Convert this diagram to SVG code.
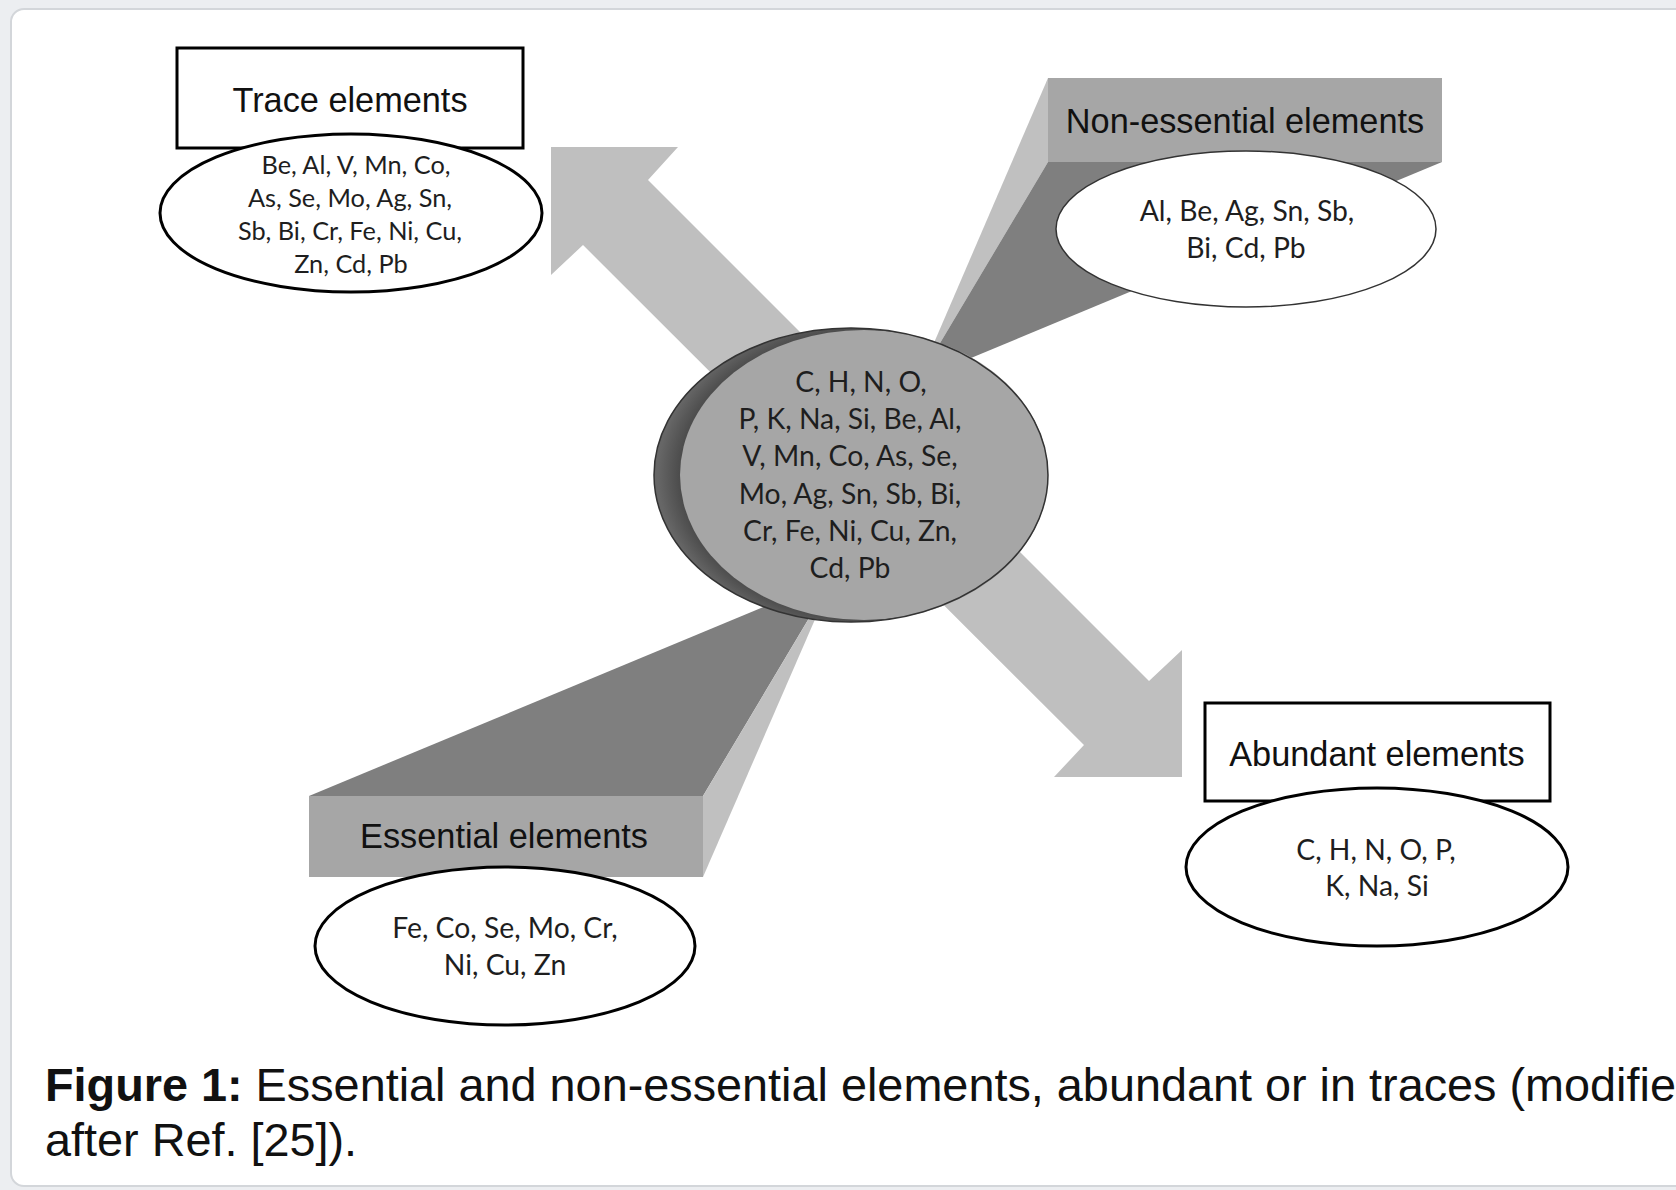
<svg xmlns="http://www.w3.org/2000/svg" width="1676" height="1190" viewBox="0 0 1676 1190">
  <defs>
    <style>
      .lbl { font-family: "Liberation Sans", Arial, sans-serif; font-size: 34.3px; fill: #111111; text-anchor: middle; }
      .el { font-family: Lato, "Open Sans", sans-serif; font-size: 28.3px; fill: #1e1e1e; text-anchor: middle; }
      .el-s { font-size: 25.3px; }
      .bx { fill: #ffffff; stroke: #000000; stroke-width: 3; }
      .ov { fill: #ffffff; stroke: #000000; stroke-width: 3; }
      .ov-thin { fill: #ffffff; stroke: #333333; stroke-width: 1.5; }
      .front { fill: #a6a6a6; }
      .side { fill: #c0c0c0; }
      .dark { fill: #7f7f7f; }
      .cap { font-family: "Liberation Sans", Arial, sans-serif; font-size: 46.8px; fill: #111111; }
    </style>
    <radialGradient id="disc" cx="0.56" cy="0.5" r="0.55">
      <stop offset="0.85" stop-color="#3f3f3f"/>
      <stop offset="1" stop-color="#666666"/>
    </radialGradient>
  </defs>

  <!-- page background and card -->
  <rect x="0" y="0" width="1676" height="1190" fill="#eceef1"/>
  <rect x="11" y="9" width="1720" height="1177" rx="13" ry="13" fill="#ffffff" stroke="#d3d6da" stroke-width="2"/>

  <!-- connectors: double-headed arrow -->
  <g id="connectors">
    <polygon fill="#bfbfbf" points="551,147 678,147 648,180 1149,681 1182,650 1182,777 1054,777 1084,745 583,245 551,275"/>
  </g>

  <!-- Non-essential elements callout -->
  <g id="node-nonessential">
    <polygon class="side" points="1048,78 1048,162 918,380"/>
    <polygon class="dark" points="1048,162 1442,162 918,380"/>
    <rect class="front" x="1048" y="78" width="394" height="84"/>
    <text class="lbl" x="1245" y="133">Non-essential elements</text>
    <ellipse class="ov-thin" cx="1246" cy="229" rx="190" ry="78"/>
    <text class="el" x="1247" y="221">Al, Be, Ag, Sn, Sb,</text>
    <text class="el" x="1246" y="258">Bi, Cd, Pb</text>
  </g>

  <!-- Essential elements callout -->
  <g id="node-essential">
    <polygon class="dark" points="309,796 703,796 833,578"/>
    <polygon class="side" points="703,796 703,877 833,578"/>
    <rect class="front" x="309" y="796" width="394" height="81"/>
    <text class="lbl" x="504" y="848">Essential elements</text>
    <ellipse class="ov" cx="505" cy="946" rx="190" ry="79"/>
    <text class="el" x="505" y="938">Fe, Co, Se, Mo, Cr,</text>
    <text class="el" x="505" y="975">Ni, Cu, Zn</text>
  </g>

  <!-- Central disc -->
  <g id="node-center">
    <ellipse cx="851" cy="475" rx="197" ry="147" fill="url(#disc)"/>
    <ellipse cx="864" cy="475" rx="184" ry="145" fill="#a6a6a6"/>
    <ellipse cx="851" cy="475" rx="197" ry="147" fill="none" stroke="#333333" stroke-width="1.5"/>
    <text class="el" x="861" y="392">C, H, N, O,</text>
    <text class="el" x="850" y="429">P, K, Na, Si, Be, Al,</text>
    <text class="el" x="850" y="466">V, Mn, Co, As, Se,</text>
    <text class="el" x="850" y="504">Mo, Ag, Sn, Sb, Bi,</text>
    <text class="el" x="850" y="541">Cr, Fe, Ni, Cu, Zn,</text>
    <text class="el" x="850" y="578">Cd, Pb</text>
  </g>

  <!-- Trace elements -->
  <g id="node-trace">
    <rect class="bx" x="177" y="48" width="346" height="100"/>
    <text class="lbl" x="350" y="112">Trace elements</text>
    <ellipse class="ov" cx="351" cy="213" rx="191" ry="79"/>
    <text class="el el-s" x="356" y="174">Be, Al, V, Mn, Co,</text>
    <text class="el el-s" x="350" y="207">As, Se, Mo, Ag, Sn,</text>
    <text class="el el-s" x="350" y="240">Sb, Bi, Cr, Fe, Ni, Cu,</text>
    <text class="el el-s" x="351" y="273">Zn, Cd, Pb</text>
  </g>

  <!-- Abundant elements -->
  <g id="node-abundant">
    <rect class="bx" x="1205" y="703" width="345" height="98"/>
    <text class="lbl" x="1377" y="766">Abundant elements</text>
    <ellipse class="ov" cx="1377" cy="867" rx="191" ry="79"/>
    <text class="el" x="1376" y="860">C, H, N, O, P,</text>
    <text class="el" x="1377" y="896">K, Na, Si</text>
  </g>

  <!-- caption -->
  <g id="caption">
    <text class="cap" x="45" y="1101"><tspan font-weight="bold">Figure 1:</tspan> Essential and non-essential elements, abundant or in traces (modified</text>
    <text class="cap" x="45" y="1156">after Ref. [25]).</text>
  </g>
</svg>
